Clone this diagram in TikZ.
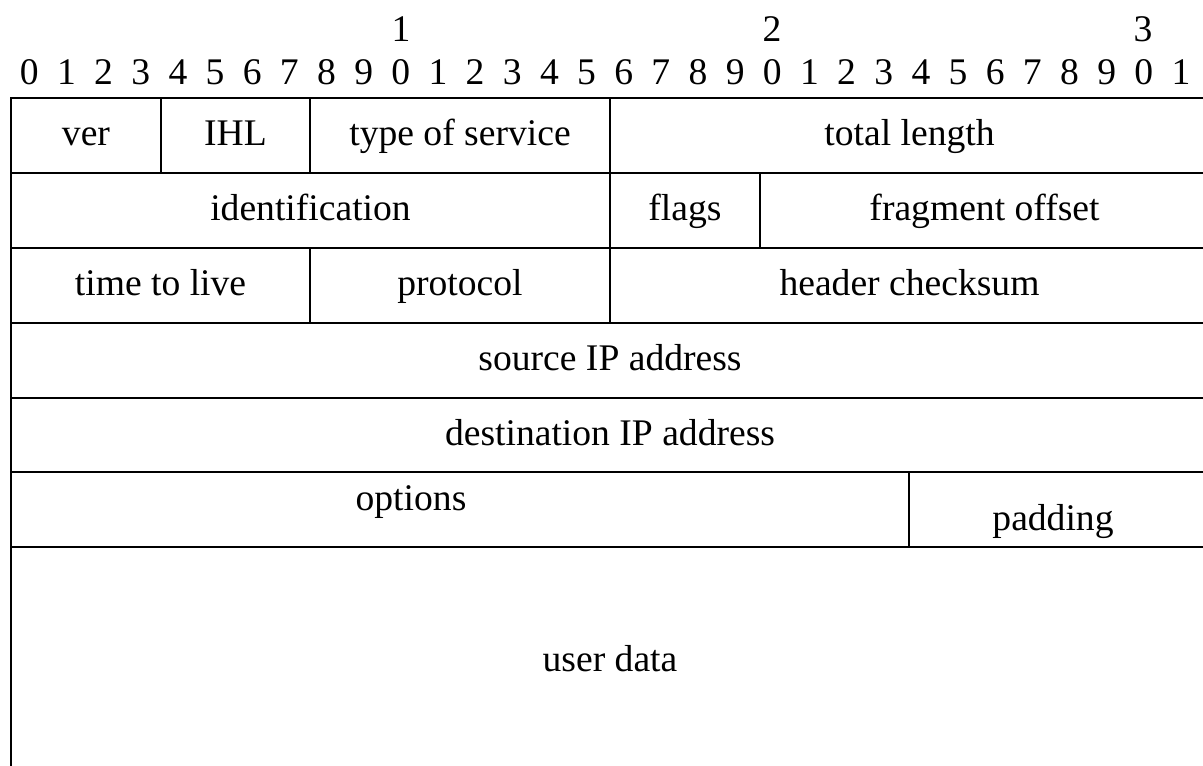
\documentclass[tikz,border=0pt]{standalone}
\usepackage{fontspec}
\setmainfont{Liberation Serif}
\begin{document}
\begin{tikzpicture}[
  x=0.5pt, y=-0.5pt,
  rule/.style={line width=1.1pt, line cap=rect},
  lbl/.style={anchor=base, inner sep=0pt, font=\fontsize{18.8}{22}\selectfont}
]
\useasboundingbox (0,0) rectangle (1203,765);

% bit numbers
\foreach \i in {0,...,31} {
  \pgfmathtruncatemacro\d{mod(\i,10)}
  \node[lbl] (bit\i) at ({29.3+37.15*\i},85) {\d};
}
\node[lbl] (ten1) at (401,42) {1};
\node[lbl] (ten2) at (772,42) {2};
\node[lbl] (ten3) at (1143,42) {3};

% row separators
\foreach \y in {98,173,248,323,398,472,547}
  \draw[rule] (11,\y) -- (1203,\y);
% left border, open at the bottom
\draw[rule] (11,98) -- (11,770);

% field dividers
\draw[rule] (161,98) -- (161,173);
\draw[rule] (310,98) -- (310,173);
\draw[rule] (610,98) -- (610,173);
\draw[rule] (610,173) -- (610,248);
\draw[rule] (760,173) -- (760,248);
\draw[rule] (310,248) -- (310,323);
\draw[rule] (610,248) -- (610,323);
\draw[rule] (909,472) -- (909,547);

% field names
\node[lbl] (ver)   at (86,145)    {ver};
\node[lbl] (ihl)   at (235.5,145) {IHL};
\node[lbl] (tos)   at (460,145)   {type of service};
\node[lbl] (len)   at (909.5,145) {total length};
\node[lbl] (ident) at (310.5,220) {identification};
\node[lbl] (flags) at (685,220)   {flags};
\node[lbl] (frag)  at (984.5,220) {fragment offset};
\node[lbl] (ttl)   at (160.5,295) {time to live};
\node[lbl] (proto) at (460,295)   {protocol};
\node[lbl] (csum)  at (909.5,295) {header checksum};
\node[lbl] (src)   at (610,370)   {source IP address};
\node[lbl] (dst)   at (610,445)   {destination IP address};
\node[lbl] (opt)   at (411,510)   {options};
\node[lbl] (pad)   at (1053,530)  {padding};
\node[lbl] (data)  at (610,671)   {user data};
\end{tikzpicture}
\end{document}
